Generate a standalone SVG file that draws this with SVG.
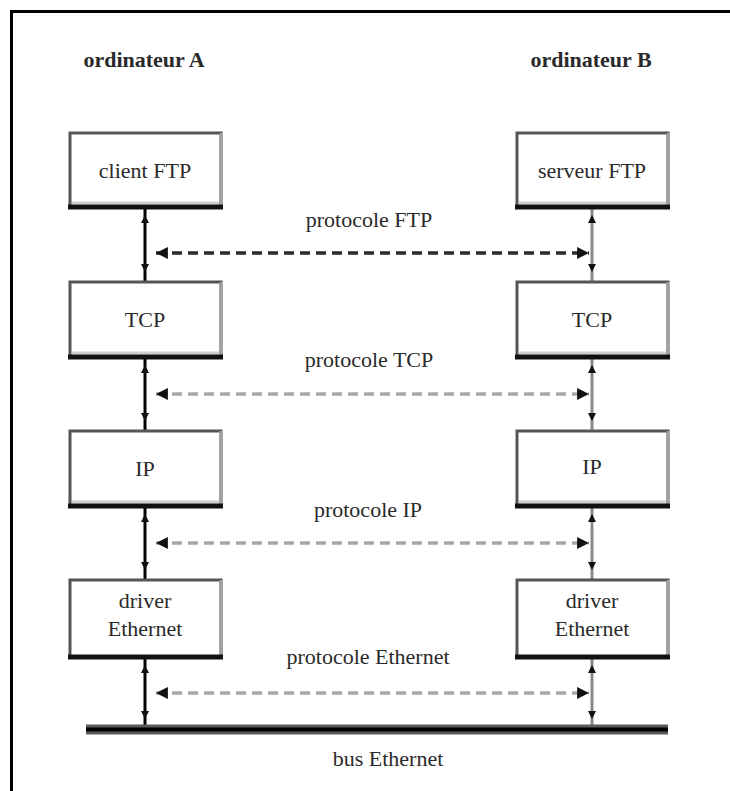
<svg xmlns="http://www.w3.org/2000/svg" width="730" height="791" viewBox="0 0 730 791">
<defs>
<style>
text{font-family:"Liberation Serif","Times New Roman",serif;font-size:22px;fill:#2a2a2a;text-anchor:middle}
.hdr{font-weight:bold}
.box{fill:#fff;stroke:#555;stroke-width:3}
.rs{stroke:#a0a0a0;stroke-width:3}
.hl{stroke:#cfcfcf;stroke-width:3}
.bb{stroke:#111;stroke-width:5}
.vl{stroke:#000;stroke-width:3;fill:none}
.vr{stroke:#8a8a8a;stroke-width:3;fill:none}
.dk{stroke:#2a2a2a;stroke-width:3.5;stroke-dasharray:10 6;fill:none}
.lt{stroke:#a8a8a8;stroke-width:3.5;stroke-dasharray:10 6;fill:none}
.tri{fill:#111}
</style>
<marker id="ah" viewBox="0 0 10 10" refX="10" refY="5" markerWidth="4" markerHeight="3.4" orient="auto-start-reverse" markerUnits="strokeWidth">
<path d="M0,0 L10,5 L0,10 z" fill="#111"/>
</marker>
</defs>
<rect width="730" height="791" fill="#fff"/>
<g id="frame">
<line x1="11.5" y1="10" x2="11.5" y2="791" stroke="#000" stroke-width="3"/>
<line x1="10" y1="11.5" x2="730" y2="11.5" stroke="#000" stroke-width="3"/>
</g>
<g id="headers">
<text class="hdr" x="144" y="67">ordinateur A</text>
<text class="hdr" x="591" y="67">ordinateur B</text>
</g>
<g id="connectors">
<!-- left verticals -->
<line class="vl" x1="145" y1="207" x2="145" y2="282"/>
<line class="vl" x1="145" y1="357" x2="145" y2="431"/>
<line class="vl" x1="145" y1="506" x2="145" y2="580"/>
<line class="vl" x1="145" y1="657" x2="145" y2="729"/>
<!-- right verticals -->
<line class="vr" x1="592" y1="207" x2="592" y2="282"/>
<line class="vr" x1="592" y1="357" x2="592" y2="431"/>
<line class="vr" x1="592" y1="506" x2="592" y2="580"/>
<line class="vr" x1="592" y1="657" x2="592" y2="729"/>
<!-- small arrowheads on verticals -->
<g class="tri">
<path d="M145,215 l-4,8 h8 z"/><path d="M145,272 l-4,-8 h8 z"/>
<path d="M145,365 l-4,8 h8 z"/><path d="M145,421 l-4,-8 h8 z"/>
<path d="M145,514 l-4,8 h8 z"/><path d="M145,570 l-4,-8 h8 z"/>
<path d="M145,665 l-4,8 h8 z"/><path d="M145,719 l-4,-8 h8 z"/>
<path d="M592,215 l-4,8 h8 z"/><path d="M592,272 l-4,-8 h8 z"/>
<path d="M592,365 l-4,8 h8 z"/><path d="M592,421 l-4,-8 h8 z"/>
<path d="M592,514 l-4,8 h8 z"/><path d="M592,570 l-4,-8 h8 z"/>
<path d="M592,665 l-4,8 h8 z"/><path d="M592,719 l-4,-8 h8 z"/>
</g>
<!-- protocol dashed arrows -->
<line class="dk" x1="156" y1="253" x2="589" y2="253" marker-start="url(#ah)" marker-end="url(#ah)"/>
<line class="lt" x1="156" y1="394" x2="589" y2="394" marker-start="url(#ah)" marker-end="url(#ah)"/>
<line class="lt" x1="156" y1="543" x2="589" y2="543" marker-start="url(#ah)" marker-end="url(#ah)"/>
<line class="lt" x1="156" y1="693" x2="589" y2="693" marker-start="url(#ah)" marker-end="url(#ah)"/>
</g>
<g id="labels">
<text x="369" y="227">protocole FTP</text>
<text x="369" y="367">protocole TCP</text>
<text x="368" y="517">protocole IP</text>
<text x="368" y="664">protocole Ethernet</text>
</g>
<g id="bus">
<line x1="86" y1="729.5" x2="668" y2="729.5" stroke="#5a5a5a" stroke-width="10"/>
<line x1="86" y1="729.5" x2="668" y2="729.5" stroke="#000" stroke-width="4"/>
<text x="388" y="766">bus Ethernet</text>
</g>
<g id="clientFTP">
<rect class="box" x="70" y="133" width="151" height="74"/>
<line class="hl" x1="72" y1="203" x2="219" y2="203"/>
<line class="rs" x1="221" y1="133" x2="221" y2="207"/>
<line class="bb" x1="68" y1="207" x2="223" y2="207"/>
<text x="145" y="178">client FTP</text>
</g>
<g id="serveurFTP">
<rect class="box" x="517" y="133" width="151" height="74"/>
<line class="hl" x1="519" y1="203" x2="666" y2="203"/>
<line class="rs" x1="668" y1="133" x2="668" y2="207"/>
<line class="bb" x1="515" y1="207" x2="670" y2="207"/>
<text x="592" y="178">serveur FTP</text>
</g>
<g id="tcpA">
<rect class="box" x="70" y="282" width="151" height="75"/>
<line class="hl" x1="72" y1="353" x2="219" y2="353"/>
<line class="rs" x1="221" y1="282" x2="221" y2="357"/>
<line class="bb" x1="68" y1="357" x2="223" y2="357"/>
<text x="145" y="327">TCP</text>
</g>
<g id="tcpB">
<rect class="box" x="517" y="282" width="151" height="75"/>
<line class="hl" x1="519" y1="353" x2="666" y2="353"/>
<line class="rs" x1="668" y1="282" x2="668" y2="357"/>
<line class="bb" x1="515" y1="357" x2="670" y2="357"/>
<text x="592" y="327">TCP</text>
</g>
<g id="ipA">
<rect class="box" x="70" y="431" width="151" height="75"/>
<line class="hl" x1="72" y1="502" x2="219" y2="502"/>
<line class="rs" x1="221" y1="431" x2="221" y2="506"/>
<line class="bb" x1="68" y1="506" x2="223" y2="506"/>
<text x="145" y="476">IP</text>
</g>
<g id="ipB">
<rect class="box" x="517" y="431" width="151" height="75"/>
<line class="hl" x1="519" y1="502" x2="666" y2="502"/>
<line class="rs" x1="668" y1="431" x2="668" y2="506"/>
<line class="bb" x1="515" y1="506" x2="670" y2="506"/>
<text x="592" y="474">IP</text>
</g>
<g id="driverA">
<rect class="box" x="70" y="580" width="151" height="77"/>
<line class="rs" x1="221" y1="580" x2="221" y2="657"/>
<line class="bb" x1="68" y1="657" x2="223" y2="657"/>
<text x="145" y="608">driver</text>
<text x="145" y="636">Ethernet</text>
</g>
<g id="driverB">
<rect class="box" x="517" y="580" width="151" height="77"/>
<line class="rs" x1="668" y1="580" x2="668" y2="657"/>
<line class="bb" x1="515" y1="657" x2="670" y2="657"/>
<text x="592" y="608">driver</text>
<text x="592" y="636">Ethernet</text>
</g>
</svg>
